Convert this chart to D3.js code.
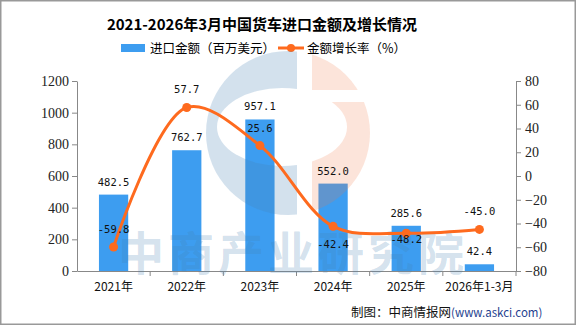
<!DOCTYPE html>
<meta charset="utf-8">
<style>
body { margin: 0; background: #fff; }
svg text { font-family: "Noto Sans CJK SC", sans-serif; }
.axisL text, .axisR text { font-family: "Liberation Serif", serif; font-size: 14px; fill: #222; }
.axisX text { font-size: 12px; fill: #111; }
.lbl { font-family: "DejaVu Sans Mono", monospace; font-size: 10.5px; fill: #111; }
</style>
<div id='chart'></div>
<script src='https://cdn.jsdelivr.net/npm/d3@7'></script>
<script>

const categories = ['2021年', '2022年', '2023年', '2024年', '2025年', '2026年1-3月'];
const amounts = [482.5, 762.7, 957.1, 552.0, 285.6, 42.4];
const growth = [-59.8, 57.7, 25.6, -42.4, -48.2, -45.0];
const leftTicks = [0, 200, 400, 600, 800, 1000, 1200];
const rightTicks = [-80, -60, -40, -20, 0, 20, 40, 60, 80];

const W = 576, H = 325;
const plot = {left: 77, right: 516, top: 81, bottom: 271};
const barColor = '#3d9df0', lineColor = '#fe6a1e';

const svg = d3.select('#chart').append('svg')
    .attr('width', W).attr('height', H);

svg.append('rect')
    .attr('x', 0.75).attr('y', 0.75)
    .attr('width', W - 1.5).attr('height', H - 1.5)
    .attr('fill', '#fff').attr('stroke', '#999').attr('stroke-width', 1.5);

const x = d3.scaleBand().domain(categories).range([plot.left, plot.right]);
const yL = d3.scaleLinear().domain([0, 1200]).range([plot.bottom, plot.top]);
const yR = d3.scaleLinear().domain([-80, 80]).range([plot.bottom, plot.top]);

// title
svg.append('text')
    .attr('x', 262).attr('y', 30)
    .attr('text-anchor', 'middle')
    .style('font-size', '15px').style('font-weight', 'bold')
    .text('2021-2026年3月中国货车进口金额及增长情况');

// legend
const leg = svg.append('g').style('font-size', '12.5px');
leg.append('rect').attr('x', 121).attr('y', 44).attr('width', 24).attr('height', 8).attr('fill', barColor);
leg.append('text').attr('x', 150).attr('y', 53).text('进口金额（百万美元）');
leg.append('line').attr('x1', 278).attr('x2', 304).attr('y1', 48).attr('y2', 48)
    .attr('stroke', lineColor).attr('stroke-width', 3);
leg.append('circle').attr('cx', 291).attr('cy', 48).attr('r', 4).attr('fill', lineColor);
leg.append('text').attr('x', 307).attr('y', 53).text('金额增长率（%）');

// axes
const axisL = svg.append('g').attr('class', 'axisL')
    .attr('transform', 'translate(' + plot.left + ',0)')
    .call(d3.axisLeft(yL).tickValues(leftTicks).tickSize(5).tickPadding(3).tickSizeOuter(0)
        .tickFormat(d3.format('d')));
const axisR = svg.append('g').attr('class', 'axisR')
    .attr('transform', 'translate(' + plot.right + ',0)')
    .call(d3.axisRight(yR).tickValues(rightTicks).tickSize(5).tickPadding(4).tickSizeOuter(0)
        .tickFormat(d => d < 0 ? '\u2212' + Math.abs(d) : d));
const axisX = svg.append('g').attr('class', 'axisX')
    .attr('transform', 'translate(0,' + plot.bottom + ')')
    .call(d3.axisBottom(x).tickSize(0).tickPadding(11));
axisX.selectAll('.tick line').remove();
axisX.selectAll('.sep')
    .data(categories)
    .enter().append('line')
    .attr('x1', (d, i) => x(d) + x.step())
    .attr('x2', (d, i) => x(d) + x.step())
    .attr('y1', 0).attr('y2', 5);
[axisL, axisR, axisX].forEach(g => {
    g.selectAll('line, path').attr('stroke', '#888');
});

// bars
const bw = x.step() * 0.4;
svg.append('g').selectAll('rect')
    .data(amounts)
    .enter().append('rect')
    .attr('x', (d, i) => x(categories[i]) + x.step() / 2 - bw / 2)
    .attr('y', d => yL(d))
    .attr('width', bw)
    .attr('height', d => yL(0) - yL(d))
    .attr('fill', barColor);

// watermark
const wm = svg.append('g');
const cx = 288, cy = 133, r = 82;
const defs = svg.append('defs');
defs.append('clipPath').attr('id', 'leftHalf')
    .append('rect').attr('x', 0).attr('y', 0).attr('width', 297).attr('height', H);
defs.append('clipPath').attr('id', 'rightHalf')
    .append('rect').attr('x', 312).attr('y', 0).attr('width', W).attr('height', H);
const mask = defs.append('mask').attr('id', 'hole');
mask.append('rect').attr('width', W).attr('height', H).attr('fill', '#fff');
mask.append('ellipse').attr('cx', 282).attr('cy', 127).attr('rx', 65).attr('ry', 39).attr('fill', '#000');
mask.append('rect').attr('x', 312).attr('y', 90).attr('width', 80).attr('height', 12).attr('fill', '#000');
wm.append('circle').attr('cx', cx).attr('cy', cy).attr('r', r)
    .attr('clip-path', 'url(#leftHalf)').attr('mask', 'url(#hole)')
    .attr('fill', 'rgb(70,130,180)').attr('fill-opacity', 0.24);
wm.append('circle').attr('cx', cx).attr('cy', cy).attr('r', r)
    .attr('clip-path', 'url(#rightHalf)').attr('mask', 'url(#hole)')
    .attr('fill', 'rgb(240,120,70)').attr('fill-opacity', 0.2);
wm.append('text')
    .attr('x', 293).attr('y', 270)
    .attr('text-anchor', 'middle')
    .attr('fill', 'rgb(70,130,180)').attr('fill-opacity', 0.24)
    .style('font-size', '46px').style('font-weight', 'bold')
    .style('letter-spacing', '4px')
    .text('中商产业研究院');

// line
const cxOf = i => x(categories[i]) + x.step() / 2;
svg.append('path')
    .datum(growth)
    .attr('d', d3.line()
        .x((d, i) => cxOf(i))
        .y(d => yR(d))
        .curve(d3.curveCatmullRom.alpha(0.5)))
    .attr('fill', 'none').attr('stroke', lineColor).attr('stroke-width', 3);
svg.append('g').selectAll('circle')
    .data(growth)
    .enter().append('circle')
    .attr('cx', (d, i) => cxOf(i))
    .attr('cy', d => yR(d))
    .attr('r', 4.5)
    .attr('fill', lineColor);

// labels
svg.append('g').selectAll('text')
    .data(amounts)
    .enter().append('text')
    .attr('class', 'lbl')
    .attr('x', (d, i) => cxOf(i))
    .attr('y', d => yL(d) - 9)
    .attr('text-anchor', 'middle')
    .text(d => d.toFixed(1));
const lineLabelShift = [-14, -14, -14, 22, 10, -14];
svg.append('g').selectAll('text')
    .data(growth)
    .enter().append('text')
    .attr('class', 'lbl')
    .attr('x', (d, i) => cxOf(i))
    .attr('y', (d, i) => yR(d) + lineLabelShift[i])
    .attr('text-anchor', 'middle')
    .text(d => d.toFixed(1));

// source
const src = svg.append('text').attr('x', 351).attr('y', 317).style('font-size', '12.5px');
src.append('tspan').attr('fill', '#111').text('制图：中商情报网');
src.append('tspan').attr('fill', '#1f3f8f').style('font-size', '11.5px').text('(www.askci.com)');

</script>
